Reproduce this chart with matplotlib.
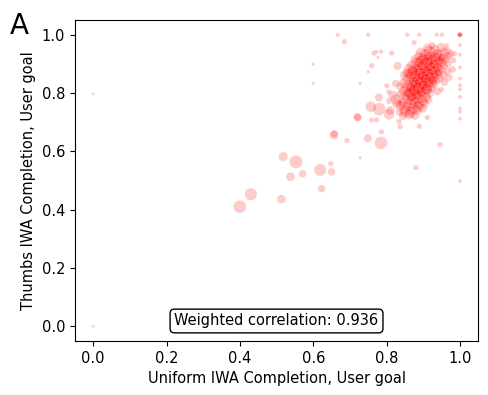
import matplotlib
matplotlib.use("Agg")
import matplotlib.pyplot as plt

plt.rcParams["font.size"] = 10.5

# Sparse points: x (uniform), y (thumbs), marker size
sparse_x = [0.0, 0.0, 0.400, 0.430, 0.513, 0.518, 0.553, 0.538, 0.571, 0.619, 0.623,
            0.648, 0.650, 0.657, 0.657, 0.692, 0.749, 0.785, 0.728, 0.759, 0.773,
            0.757, 0.721, 0.721, 0.786, 0.837, 0.834, 0.889, 0.911, 0.946, 0.880,
            1.0, 1.0, 1.0, 1.0, 1.0, 1.0, 1.0, 1.0, 1.0, 1.0, 1.0, 1.0, 1.0, 1.0, 1.0,
            0.667, 0.750, 0.856, 0.889, 0.937, 0.951, 0.875, 0.685, 0.600, 0.600,
            0.728, 0.750, 0.760, 0.766, 0.777, 0.773, 0.785, 0.814, 0.825, 0.830,
            0.779, 0.801, 0.806, 0.807, 0.807, 0.780, 0.810, 0.835, 0.840, 0.866,
            0.850, 0.950, 0.963, 0.985, 0.982, 0.980, 0.971,
            0.826, 0.838, 0.818, 0.845, 0.829]
sparse_y = [0.797, 0.0, 0.410, 0.453, 0.436, 0.582, 0.564, 0.513, 0.523, 0.536, 0.472,
            0.558, 0.530, 0.656, 0.660, 0.637, 0.645, 0.629, 0.578, 0.707, 0.708,
            0.753, 0.718, 0.716, 0.667, 0.685, 0.702, 0.686, 0.716, 0.623, 0.544,
            1.0, 1.0, 1.0, 1.0, 0.965, 0.931, 0.888, 0.850, 0.827, 0.813, 0.787,
            0.748, 0.736, 0.712, 0.498,
            1.0, 1.0, 1.0, 1.0, 1.0, 1.0, 0.973, 0.976, 0.899, 0.833,
            0.833, 0.873, 0.894, 0.937, 0.922, 0.942, 0.942, 0.937, 0.833, 0.893,
            0.785, 0.825, 0.804, 0.773, 0.727, 0.745, 0.740, 0.735, 0.763, 0.810,
            0.739, 0.812, 0.962, 0.935, 0.912, 0.881, 0.853,
            0.778, 0.757, 0.792, 0.722, 0.765]
sparse_s = [5, 5, 85, 80, 40, 45, 90, 40, 30, 75, 30,
            15, 30, 40, 30, 15, 35, 85, 6, 15, 15,
            60, 35, 30, 15, 15, 15, 15, 15, 15, 15,
            12, 12, 12, 12, 8, 8, 8, 8, 8, 8, 8, 8, 8, 8, 8,
            10, 10, 10, 10, 10, 10, 15, 15, 6, 6,
            6, 6, 15, 15, 6, 6, 10, 15, 30, 35,
            35, 15, 15, 20, 60, 85, 40, 30, 30, 40,
            80, 15, 15, 15, 20, 25, 25,
            60, 50, 45, 40, 55]

# Dense cluster points
cluster_x = [
    0.912, 0.931, 0.948, 0.965, 0.924,
    0.894, 0.917, 0.940, 0.957, 0.975,
    0.888, 0.906, 0.922, 0.937, 0.953, 0.969,
    0.877, 0.898, 0.913, 0.931, 0.946, 0.962,
    0.880, 0.893, 0.908, 0.921, 0.934, 0.950, 0.966,
    0.868, 0.885, 0.901, 0.913, 0.927, 0.941, 0.956,
    0.861, 0.877, 0.891, 0.904, 0.918, 0.932, 0.947, 0.966,
    0.856, 0.872, 0.887, 0.899, 0.911, 0.924, 0.938, 0.955,
    0.848, 0.866, 0.880, 0.893, 0.905, 0.918, 0.930, 0.944,
    0.857, 0.871, 0.885, 0.897, 0.909, 0.921, 0.935, 0.958,
    0.846, 0.863, 0.876, 0.890, 0.902, 0.915, 0.928,
    0.838, 0.856, 0.870, 0.882, 0.895, 0.908, 0.922,
    0.848, 0.862, 0.877, 0.890, 0.903, 0.917, 0.938,
    0.840, 0.853, 0.867, 0.881, 0.893, 0.908,
    0.857, 0.872, 0.885, 0.898, 0.913,
    0.845, 0.864, 0.877, 0.890, 0.903,
    0.857, 0.872, 0.886, 0.899,
    0.848, 0.866, 0.882,
    0.862, 0.877,
    0.884, 0.897, 0.910, 0.925, 0.938, 0.878, 0.892, 0.905, 0.918, 0.930,
    0.944, 0.873, 0.886, 0.899, 0.912, 0.925, 0.937, 0.866, 0.879, 0.893,
    0.906, 0.919, 0.932, 0.860, 0.874, 0.887, 0.900, 0.913, 0.926, 0.868,
    0.882, 0.895, 0.909, 0.950, 0.915, 0.901, 0.888, 0.871, 0.860, 0.941,
]
cluster_y = [
    0.953, 0.947, 0.956, 0.944, 0.962,
    0.938, 0.943, 0.935, 0.941, 0.936,
    0.927, 0.932, 0.925, 0.929, 0.922, 0.928,
    0.916, 0.922, 0.913, 0.919, 0.911, 0.918,
    0.905, 0.909, 0.902, 0.908, 0.899, 0.906, 0.901,
    0.896, 0.892, 0.898, 0.889, 0.894, 0.887, 0.895,
    0.884, 0.881, 0.886, 0.878, 0.883, 0.876, 0.882, 0.874,
    0.872, 0.869, 0.874, 0.866, 0.871, 0.864, 0.869, 0.862,
    0.861, 0.857, 0.862, 0.854, 0.859, 0.852, 0.857, 0.851,
    0.848, 0.843, 0.849, 0.841, 0.846, 0.839, 0.844, 0.838,
    0.835, 0.831, 0.837, 0.829, 0.834, 0.827, 0.832,
    0.823, 0.818, 0.824, 0.816, 0.821, 0.814, 0.819,
    0.808, 0.804, 0.811, 0.803, 0.807, 0.801, 0.806,
    0.795, 0.791, 0.797, 0.789, 0.794, 0.787,
    0.781, 0.777, 0.783, 0.775, 0.779,
    0.768, 0.764, 0.769, 0.762, 0.766,
    0.754, 0.749, 0.755, 0.748,
    0.742, 0.737, 0.743,
    0.728, 0.724,
    0.880, 0.893, 0.905, 0.915, 0.925, 0.858, 0.867, 0.877, 0.890, 0.900,
    0.910, 0.838, 0.848, 0.857, 0.866, 0.876, 0.887, 0.818, 0.827, 0.836,
    0.846, 0.855, 0.864, 0.800, 0.809, 0.818, 0.826, 0.836, 0.845, 0.786,
    0.795, 0.804, 0.813, 0.920, 0.925, 0.915, 0.905, 0.877, 0.865, 0.870,
]
cluster_s = [
    50, 60, 45, 35, 30,
    60, 70, 55, 45, 30,
    45, 70, 60, 75, 50, 35,
    40, 60, 80, 65, 55, 40,
    60, 75, 85, 60, 70, 45, 35,
    45, 60, 80, 70, 85, 55, 40,
    50, 75, 60, 85, 70, 60, 45, 35,
    45, 85, 70, 60, 85, 70, 50, 40,
    40, 60, 85, 70, 60, 80, 55, 45,
    60, 70, 85, 60, 80, 70, 45, 35,
    45, 70, 60, 85, 70, 60, 45,
    40, 60, 85, 70, 60, 70, 45,
    60, 70, 85, 70, 60, 45, 35,
    45, 60, 85, 70, 60, 45,
    60, 75, 85, 60, 45,
    50, 85, 70, 60, 45,
    60, 85, 70, 45,
    45, 70, 60,
    60, 45,
    70, 60, 80, 60, 50, 70, 85, 60, 75, 60,
    45, 60, 80, 70, 85, 60, 50, 60, 75, 85,
    70, 60, 45, 60, 70, 85, 60, 70, 50, 60,
    70, 60, 70, 40, 60, 70, 60, 70, 60, 45,
]

all_x = sparse_x + cluster_x
all_y = sparse_y + cluster_y
all_s = sparse_s + cluster_s

corr_text = "Weighted correlation: 0.936"

fig = plt.figure(figsize=(4.89, 3.95), dpi=100)
ax = fig.add_axes([0.153, 0.137, 0.825, 0.812])
ax.scatter(all_x, all_y, s=all_s, color="red", alpha=0.2,
           edgecolors="white", linewidths=0.6)
ax.set_xlim(-0.05, 1.05)
ax.set_ylim(-0.05, 1.05)
ax.set_xticks([0.0, 0.2, 0.4, 0.6, 0.8, 1.0])
ax.set_yticks([0.0, 0.2, 0.4, 0.6, 0.8, 1.0])
ax.set_xlabel("Uniform IWA Completion, User goal")
ax.set_ylabel("Thumbs IWA Completion, User goal")
ax.text(0.5, 0.062, corr_text, transform=ax.transAxes, ha="center", va="center",
        bbox=dict(boxstyle="round,pad=0.3", facecolor="white", edgecolor="black"))
fig.text(0.02, 0.935, "A", fontsize=20, ha="left", va="center")
fig.savefig("out.png", dpi=100)
